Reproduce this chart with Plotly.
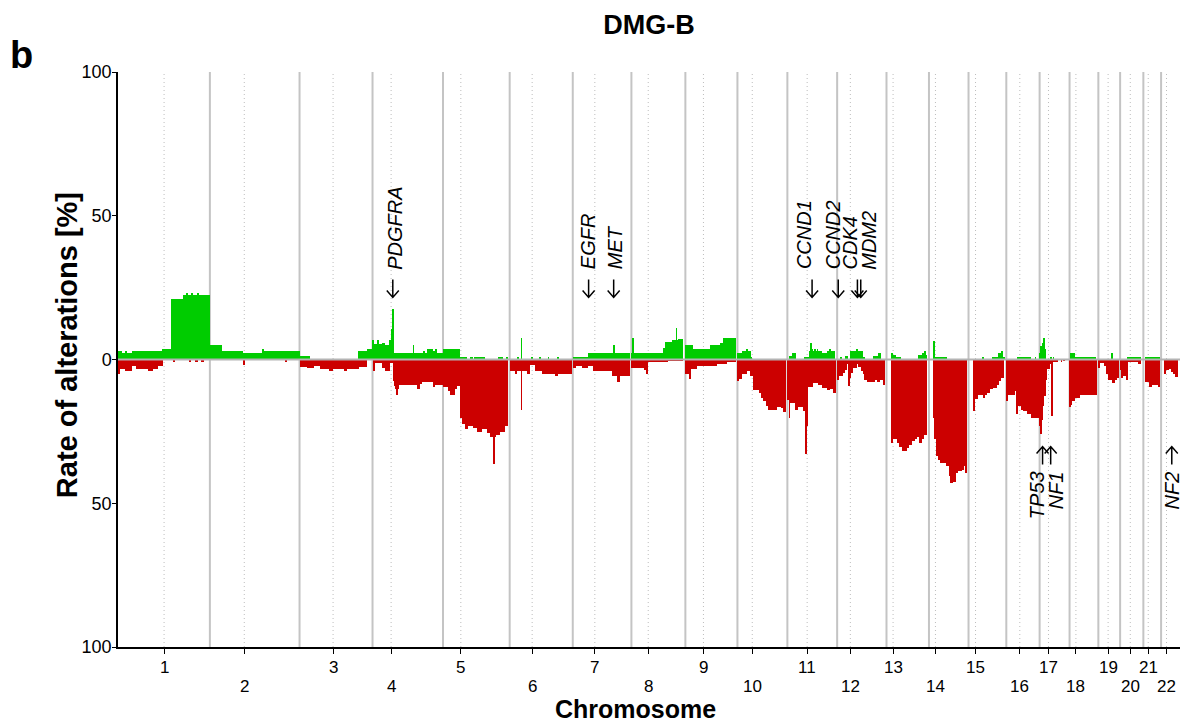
import plotly.graph_objects as go

# ---------------- data ----------------
chrom_names = [str(i) for i in range(1, 23)]
chrom_len = [249.25, 243.2, 198.0, 191.15, 180.9, 171.1, 159.1, 146.4, 141.2, 135.5, 135.0,
             133.85, 115.2, 107.35, 102.5, 90.35, 81.2, 78.1, 59.1, 63.0, 48.1, 51.3]
centromere = [125.0, 93.3, 91.0, 50.4, 48.4, 61.0, 59.9, 45.6, 49.0, 40.2, 53.7,
              35.8, 17.9, 17.6, 19.0, 36.6, 24.0, 17.2, 26.5, 27.5, 13.2, 14.7]

# (chromosome, start Mb, end Mb, % of samples with gain)
gain_segments = [
    (1, 0, 12, 2.8), (1, 12, 20, 2.1), (1, 20, 25, 2.8), (1, 25, 37, 2.1), (1, 37, 118.5, 2.8),
    (1, 118.5, 143.7, 3.7), (1, 143.7, 177, 21.2), (1, 177, 185, 22.4), (1, 185, 188, 23.2),
    (1, 188, 200, 22.4), (1, 200, 203, 23.2), (1, 203, 215, 22.4), (1, 215, 218, 23.2), (1, 218, 249.2, 22.4),
    (2, 0, 31.6, 5.0), (2, 31.6, 90, 2.8), (2, 90, 144, 2.1), (2, 144, 147, 3.7), (2, 147, 243.2, 2.8),
    (3, 0, 28, 1.2), (3, 159, 182, 2.8), (3, 182, 198, 3.8),
    (4, 0, 3.8, 6.7), (4, 3.8, 14.6, 5.3), (4, 14.6, 18.3, 6.7), (4, 18.3, 25.5, 5.3), (4, 25.5, 33.6, 5.8),
    (4, 33.6, 47.2, 5.0), (4, 47.2, 50.8, 6.7), (4, 50.8, 54.4, 10.7), (4, 54.4, 56.2, 17.4),
    (4, 56.2, 58, 11.5), (4, 58, 110.5, 2.1), (4, 110.5, 112.5, 4.9), (4, 112.5, 137.6, 2.1),
    (4, 137.6, 142.1, 2.8), (4, 142.1, 148.5, 2.1), (4, 148.5, 164.7, 3.7), (4, 164.7, 170.1, 2.8),
    (4, 170.1, 173.8, 3.7), (4, 173.8, 191, 2.1),
    (5, 0, 46, 3.7), (5, 46, 64, 0.9), (5, 73, 82, 0.9), (5, 84, 114, 0.9), (5, 150, 163.6, 0.9), (5, 172.6, 177, 0.9),
    (6, 22.5, 24.3, 1.0), (6, 31.6, 33.4, 7.5), (6, 59, 61, 1.0), (6, 81, 83, 1.0), (6, 104, 106, 1.0), (6, 131, 133, 1.0),
    (7, 0, 42, 1.0), (7, 42, 111.5, 2.1), (7, 111.5, 113.5, 4.9), (7, 113.5, 155, 2.1),
    (8, 0, 3.5, 2.1), (8, 3.5, 5.5, 7.5), (8, 5.5, 86.4, 2.1), (8, 86.4, 90.9, 4.0), (8, 90.9, 109, 6.0),
    (8, 109, 121.5, 6.7), (8, 121.5, 123.5, 10.8), (8, 123.5, 127, 6.7), (8, 127, 140.6, 7.2),
    (9, 0, 21.2, 4.9), (9, 21.2, 66.4, 3.8), (9, 66.4, 93.6, 4.9), (9, 93.6, 102.6, 5.8), (9, 102.6, 137, 7.5),
    (10, 0, 11.3, 2.1), (10, 11.3, 24.9, 2.8), (10, 24.9, 26, 3.7), (10, 26, 35.8, 2.8), (10, 38, 39, 1.0),
    (11, 6.8, 12.2, 1.2), (11, 12.2, 23, 2.1), (11, 44.8, 61, 0.9), (11, 61, 63.2, 2.8), (11, 63.2, 64.5, 5.8),
    (11, 64.5, 66.4, 2.8), (11, 66.4, 70, 3.7), (11, 70, 74, 2.8), (11, 74, 75.5, 3.7), (11, 75.5, 81.5, 2.8),
    (11, 81.5, 83, 3.7), (11, 83, 92.6, 2.8), (11, 92.6, 106.2, 2.1), (11, 106.2, 114, 2.8),
    (11, 114, 116, 3.7), (11, 116, 128.8, 2.8),
    (12, 9.2, 10.6, 0.9), (12, 20.9, 29.9, 1.2), (12, 34.4, 50.7, 2.8), (12, 50.7, 57, 3.7), (12, 57, 69, 2.8),
    (12, 69, 75.1, 0.9), (12, 97.7, 111.3, 1.2), (12, 111.3, 118.5, 2.1),
    (13, 13.8, 18.3, 2.1), (13, 18.3, 25.5, 1.4), (13, 25.5, 38.2, 0.9), (13, 86, 95.4, 1.4),
    (13, 95.4, 101.5, 2.1), (13, 101.5, 107, 2.8), (13, 107, 108.8, 1.4),
    (14, 13.6, 15.4, 6.6), (14, 15.4, 48, 0.9),
    (15, 37, 42.4, 0.9), (15, 62.3, 80.4, 0.9), (15, 80.4, 83.1, 2.1), (15, 84, 89.4, 2.1),
    (15, 89.4, 94, 2.9), (15, 94, 96.6, 0.9),
    (16, 30.3, 68.3, 0.9), (16, 79.2, 80.5, 0.9),
    (17, 0.5, 3.3, 2.1), (17, 3.3, 6.8, 4.6), (17, 6.8, 10.4, 5.8), (17, 10.4, 14.1, 7.5), (17, 14.1, 16, 3.5),
    (17, 30.4, 31.5, 0.9), (17, 37.6, 39, 0.9),
    (18, 0, 14.4, 2.1), (18, 14.4, 72, 0.9),
    (19, 37, 38.2, 2.1),
    (20, 18.2, 56.1, 0.9),
    (21, 5, 45, 0.9),
]

# (chromosome, start Mb, end Mb, % of samples with loss)
loss_segments = [
    (1, 0, 5.4, 5.2), (1, 5.4, 20, 3.2), (1, 20, 37, 4.0), (1, 37, 50, 2.1), (1, 50, 82, 3.2),
    (1, 82, 95, 4.1), (1, 95, 109, 3.2), (1, 109, 122, 2.1), (1, 150, 153, 1.0), (1, 195, 198, 1.0),
    (1, 210, 216, 1.0), (1, 225, 232, 1.0),
    (2, 90, 93, 2.0), (2, 205, 208, 0.8),
    (3, 0, 20, 2.5), (3, 20, 40, 3.0), (3, 40, 55, 2.3), (3, 55, 80, 3.2), (3, 80, 90, 4.0),
    (3, 90, 120, 3.2), (3, 120, 130, 4.0), (3, 130, 160, 3.2), (3, 160, 182, 2.5),
    (4, 2.5, 7, 4.1), (4, 7, 25.5, 1.2), (4, 25.5, 34, 2.9), (4, 34, 47.2, 4.1), (4, 47.2, 54.4, 1.2),
    (4, 56.2, 58, 6.0), (4, 58, 60.7, 7.5), (4, 60.7, 63.5, 9.3), (4, 63.5, 65.3, 10.4), (4, 65.3, 68, 12.2),
    (4, 68, 70.7, 10.4), (4, 70.7, 119.5, 9.0), (4, 119.5, 128.6, 10.2), (4, 128.6, 133.1, 8.5),
    (4, 133.1, 164.7, 7.9), (4, 164.7, 170.1, 9.5), (4, 170.1, 190.5, 9.0),
    (5, 0, 14.5, 9.5), (5, 14.5, 19, 11.0), (5, 19, 32.5, 12.3), (5, 32.5, 37.1, 10.4), (5, 37.1, 46, 9.3),
    (5, 48, 50.6, 20.3), (5, 50.6, 59.7, 22.5), (5, 59.7, 68.7, 24.0), (5, 68.7, 82.3, 23.2),
    (5, 82.3, 93.1, 23.8), (5, 93.1, 104.9, 25.3), (5, 104.9, 118.4, 24.3), (5, 118.4, 127.5, 25.5),
    (5, 127.5, 138.2, 26.9), (5, 138.2, 139.6, 36.5), (5, 139.6, 143.7, 26.9), (5, 143.7, 154.6, 26.4),
    (5, 154.6, 168.2, 25.3), (5, 168.2, 177.1, 23.2),
    (6, 0, 17, 4.1), (6, 17, 20, 5.2), (6, 20, 31.6, 4.1), (6, 31.6, 33.4, 17.4), (6, 33.4, 46, 4.1),
    (6, 46, 55, 5.2), (6, 55, 68, 1.8), (6, 68, 87, 4.1), (6, 87, 122, 5.0), (6, 122, 130, 5.8), (6, 130, 168, 5.0),
    (7, 0, 10, 2.9), (7, 10, 25, 2.1), (7, 25, 42, 2.9), (7, 42, 55.7, 2.1), (7, 55.7, 105.5, 4.1),
    (7, 105.5, 119, 5.8), (7, 119, 128, 7.9), (7, 128, 155, 5.8),
    (8, 0, 36.6, 2.9), (8, 36.6, 40, 3.5), (8, 40, 45.6, 5.2), (8, 45.6, 99.9, 0.9), (8, 99.9, 140.6, 0.3),
    (9, 0, 12, 5.2), (9, 12, 15, 6.7), (9, 15, 30.2, 3.2), (9, 30.2, 84.5, 2.1), (9, 84.5, 111.6, 1.7),
    (9, 111.6, 137, 0.9),
    (10, 0, 1.6, 7.5), (10, 1.6, 4.5, 5.8), (10, 4.5, 11.3, 6.7), (10, 11.3, 24.9, 5.2), (10, 24.9, 35.8, 4.0),
    (10, 35.8, 41.2, 5.8), (10, 41.2, 61, 10.7), (10, 61, 65.5, 11.6), (10, 65.5, 70, 13.3), (10, 70, 77.3, 14.5),
    (10, 77.3, 83.5, 16.0), (10, 83.5, 92.6, 17.4), (10, 92.6, 106.2, 17.6), (10, 106.2, 119.8, 16.5),
    (10, 119.8, 124.3, 17.0), (10, 124.3, 131, 18.3),
    (11, 0, 2.3, 14.1), (11, 2.3, 4.5, 13.9), (11, 4.5, 6, 20.3), (11, 6, 20.3, 15.3), (11, 20.3, 29.4, 17.6),
    (11, 29.4, 43, 16.5), (11, 43, 49.5, 18.0), (11, 49.5, 51, 33.0), (11, 51, 56.5, 23.2),
    (11, 56.5, 70, 9.5), (11, 70, 83.5, 8.1), (11, 83.5, 92.6, 9.0), (11, 92.6, 106.2, 9.9),
    (11, 106.2, 115.3, 10.7), (11, 115.3, 124.3, 10.4), (11, 124.3, 131.5, 11.6),
    (12, 0, 2.8, 7.0), (12, 2.8, 16.3, 5.8), (12, 16.3, 20.9, 4.6), (12, 20.9, 27.1, 3.5), (12, 27.1, 31, 1.7),
    (12, 31, 32.6, 9.3), (12, 32.6, 36.2, 6.4), (12, 36.2, 43.4, 4.6), (12, 43.4, 52.6, 2.9), (12, 52.6, 57, 1.7),
    (12, 57, 66.2, 2.6), (12, 66.2, 70.5, 4.1), (12, 70.5, 75.1, 5.2), (12, 75.1, 79.7, 7.0), (12, 79.7, 102.3, 7.9),
    (12, 102.3, 106.8, 7.0), (12, 106.8, 115.8, 7.9), (12, 115.8, 124.8, 7.0), (12, 124.8, 130.2, 8.7),
    (13, 13.8, 18.3, 29.0), (13, 18.3, 29.2, 27.8), (13, 29.2, 34.6, 29.0), (13, 34.6, 41, 30.4),
    (13, 41, 54.5, 31.7), (13, 54.5, 61.7, 30.7), (13, 61.7, 68.1, 29.9), (13, 68.1, 77.2, 28.4),
    (13, 77.2, 83.5, 27.6), (13, 83.5, 90.8, 26.9), (13, 90.8, 95.4, 29.0), (13, 95.4, 101.5, 27.8),
    (13, 101.5, 110.6, 26.1),
    (14, 13.6, 16.3, 20.3), (14, 16.3, 20.8, 27.8), (14, 20.8, 25.3, 33.6), (14, 25.3, 29.8, 34.8),
    (14, 29.8, 46.1, 35.9), (14, 46.1, 55.2, 36.9), (14, 55.2, 58.8, 40.6), (14, 58.8, 64.2, 42.9),
    (14, 64.2, 73.2, 42.7), (14, 73.2, 79.5, 39.4), (14, 79.5, 88.5, 38.8), (14, 88.5, 94.9, 38.3),
    (14, 94.9, 100.3, 36.9), (14, 100.3, 102.2, 39.4),
    (15, 14.4, 17.1, 18.0), (15, 17.1, 24.4, 13.9), (15, 24.4, 39.6, 12.2), (15, 39.6, 44.2, 13.3),
    (15, 44.2, 51.4, 12.2), (15, 51.4, 57.8, 11.6), (15, 57.8, 66.7, 10.4), (15, 66.7, 75.9, 9.9),
    (15, 75.9, 82.2, 8.7), (15, 82.2, 89.4, 7.5), (15, 89.4, 97, 6.4),
    (16, 0, 2, 14.5), (16, 2, 23, 12.2), (16, 23, 27.5, 11.0), (16, 27.5, 32.1, 19.1), (16, 32.1, 41.2, 16.2),
    (16, 41.2, 45.7, 17.4), (16, 45.7, 54.8, 18.0), (16, 54.8, 66.5, 19.1), (16, 66.5, 88, 20.3),
    (17, 0, 3.3, 23.2), (17, 3.3, 5, 26.0), (17, 5, 7.7, 20.9), (17, 7.7, 12.3, 16.2), (17, 12.3, 16, 12.8),
    (17, 16, 21.3, 7.0), (17, 21.3, 28.6, 3.2), (17, 28.6, 32.1, 1.7), (17, 33.2, 34.5, 19.5),
    (17, 34.5, 50.3, 0.8), (17, 58, 60, 0.8), (17, 65, 67, 0.6),
    (18, 0, 2.5, 16.5), (18, 2.5, 5.3, 15.7), (18, 5.3, 14.4, 14.5), (18, 14.4, 27.9, 13.3),
    (18, 27.9, 41.5, 12.5), (18, 41.5, 74, 12.2),
    (19, 0, 4.1, 2.9), (19, 4.1, 17.6, 1.2), (19, 17.6, 22.2, 2.3), (19, 22.2, 26.7, 5.2),
    (19, 26.7, 35.8, 7.0), (19, 35.8, 44.8, 8.1), (19, 44.8, 49.3, 7.0), (19, 49.3, 55, 6.4),
    (20, 0, 3.8, 3.5), (20, 3.8, 8.3, 6.4), (20, 8.3, 17.4, 5.8), (20, 17.4, 21.9, 7.0), (20, 21.9, 35.4, 1.0),
    (20, 35.4, 49, 0.8), (20, 49, 56, 1.7),
    (21, 5, 17.6, 7.9), (21, 17.6, 22.2, 9.5), (21, 22.2, 38.5, 9.0), (21, 38.5, 44, 9.5),
    (22, 8.2, 11.8, 4.9), (22, 11.8, 20.9, 3.5), (22, 20.9, 26.3, 3.2), (22, 26.3, 32.6, 4.4),
    (22, 32.6, 37.2, 5.2), (22, 37.2, 46, 6.0),
]

gene_names = ["PDGFRA", "EGFR", "MET", "CCND1", "CCND2", "CDK4", "MDM2", "TP53", "NF1", "NF2"]
gene_chrom = [4, 7, 7, 11, 12, 12, 12, 17, 17, 22]
gene_pos = [55.0, 43.0, 111.0, 67.0, 3.0, 55.0, 64.0, 8.0, 30.0, 29.0]
gene_kind = ["gain", "gain", "gain", "gain", "gain", "gain", "gain", "loss", "loss", "loss"]
gene_label_shift = [2, -1, 1, -8, -5, -7, 8, -6, 5, 0]  # px offset of label from arrow

y_tick_vals = [-100, -50, 0, 50, 100]
y_tick_text = ["100", "50", "0", "50", "100"]

# ---------------- helpers ----------------
offsets = []
acc = 0.0
for L in chrom_len:
    offsets.append(acc)
    acc += L
genome_len = acc

def gpos(c, p):
    return offsets[c - 1] + p

GREEN = "#00cc00"
RED = "#cc0000"
FONT = "Liberation Sans, Arial, Helvetica, sans-serif"

fig = go.Figure()

gx = [gpos(c, (s + e) / 2) for c, s, e, v in gain_segments]
gw = [e - s for c, s, e, v in gain_segments]
gy = [v for c, s, e, v in gain_segments]
lx = [gpos(c, (s + e) / 2) for c, s, e, v in loss_segments]
lw = [e - s for c, s, e, v in loss_segments]
ly = [-v for c, s, e, v in loss_segments]

fig.add_trace(go.Bar(x=gx, y=gy, width=gw, marker=dict(color=GREEN, line=dict(width=0)),
                     name="gain", showlegend=False))
fig.add_trace(go.Bar(x=lx, y=ly, width=lw, marker=dict(color=RED, line=dict(width=0)),
                     name="loss", showlegend=False))

shapes = []
for i in range(1, len(chrom_len)):
    shapes.append(dict(type="line", xref="x", yref="y", x0=offsets[i], x1=offsets[i], y0=-100, y1=100,
                       line=dict(color="#c4c4c4", width=2), layer="below"))
for i, c in enumerate(centromere):
    shapes.append(dict(type="line", xref="x", yref="y", x0=offsets[i] + c, x1=offsets[i] + c, y0=-100, y1=100,
                       line=dict(color="#bdbdbd", width=1, dash="1px,3px"), layer="below"))
shapes.append(dict(type="line", xref="x", yref="y", x0=0, x1=genome_len, y0=0, y1=0,
                   line=dict(color="#b4b4b4", width=2), layer="above"))

annotations = []
for name, c, p, kind, sh in zip(gene_names, gene_chrom, gene_pos, gene_kind, gene_label_shift):
    x = gpos(c, p)
    if kind == "gain":
        shapes.append(dict(type="path", xref="x", yref="y", xsizemode="pixel", ysizemode="pixel",
                           xanchor=x, yanchor=21.6, path="M0,0 L0,18 M-6,7 L0,0 L6,7",
                           line=dict(color="black", width=1.5)))
        annotations.append(dict(x=x, y=30.6, xref="x", yref="y", text="<i>%s</i>" % name, textangle=-90,
                                showarrow=False, xanchor="center", yanchor="bottom", xshift=sh,
                                font=dict(family=FONT, size=20, color="black")))
    else:
        shapes.append(dict(type="path", xref="x", yref="y", xsizemode="pixel", ysizemode="pixel",
                           xanchor=x, yanchor=-30.3, path="M0,0 L0,-18 M-6,-7 L0,0 L6,-7",
                           line=dict(color="black", width=1.5)))
        annotations.append(dict(x=x, y=-38.3, xref="x", yref="y", text="<i>%s</i>" % name, textangle=-90,
                                showarrow=False, xanchor="center", yanchor="top", xshift=sh,
                                font=dict(family=FONT, size=20, color="black")))

# chromosome labels: odd on the upper row, even on the lower row
tick_vals = [offsets[i] + centromere[i] for i in range(len(chrom_len))]
for i, n in enumerate(chrom_names):
    annotations.append(dict(x=tick_vals[i], y=(-0.036 if i % 2 == 0 else -0.0695), xref="x", yref="paper",
                            text=n, showarrow=False, xanchor="center", yanchor="middle",
                            font=dict(family=FONT, size=17, color="black")))

annotations.append(dict(x=-0.0904, y=1.0296, xref="paper", yref="paper", text="<b>b</b>", showarrow=False,
                        xanchor="center", yanchor="middle", font=dict(family=FONT, size=38, color="black")))
annotations.append(dict(x=-0.048, y=0.525, xref="paper", yref="paper", text="<b>Rate of alterations [%]</b>",
                        textangle=-90, showarrow=False, xanchor="center", yanchor="middle",
                        font=dict(family=FONT, size=29, color="black")))
annotations.append(dict(x=0.487, y=-0.108, xref="paper", yref="paper", text="<b>Chromosome</b>",
                        showarrow=False, xanchor="center", yanchor="middle",
                        font=dict(family=FONT, size=25, color="black")))

fig.update_layout(
    width=1185, height=722,
    margin=dict(l=118, r=5, t=72, b=75),
    paper_bgcolor="white", plot_bgcolor="white",
    barmode="overlay", bargap=0,
    title=dict(text="<b>DMG-B</b>", x=0.5, xref="paper", y=1 - 25 / 722, yanchor="middle",
               font=dict(family=FONT, size=27, color="black")),
    font=dict(family=FONT, color="black"),
    xaxis=dict(range=[0, genome_len], tickmode="array", tickvals=tick_vals, showticklabels=False,
               ticks="outside", ticklen=5, tickcolor="black", tickwidth=1,
               showline=True, linecolor="black", linewidth=1.5, showgrid=False, zeroline=False),
    yaxis=dict(range=[-100, 100], tickmode="array", tickvals=y_tick_vals, ticktext=y_tick_text,
               ticks="outside", ticklen=4, tickcolor="black", tickwidth=1, ticklabelstandoff=-3,
               showline=True, linecolor="black", linewidth=1.5, showgrid=False, zeroline=False,
               tickfont=dict(family=FONT, size=18, color="black")),
    shapes=shapes, annotations=annotations,
    showlegend=False,
)

fig.write_html("out.html", config={"displayModeBar": False},
               post_script="document.body.style.margin='0';document.body.style.overflow='hidden';")
